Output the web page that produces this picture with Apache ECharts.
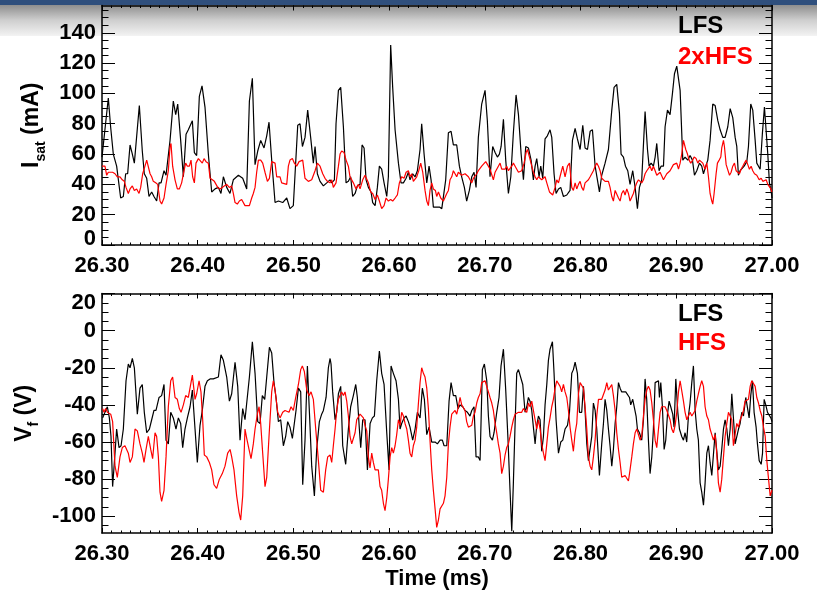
<!DOCTYPE html>
<html>
<head>
<meta charset="utf-8">
<script src="https://cdn.jsdelivr.net/npm/echarts@6/dist/echarts.min.js"></script>
<style>
  html, body { margin: 0; padding: 0; background: #ffffff; }
  #chart { width: 817px; height: 593px; }
</style>
</head>
<body>
<div id="chart"></div>
<script>
// ---- time axis (ms) ----
const timeRange = [26.30, 27.00];
const timeTicks = [26.30, 26.40, 26.50, 26.60, 26.70, 26.80, 26.90, 27.00];
const timeMinorTicks = Array.from({ length: 71 }, (_, i) => +(26.30 + i * 0.01).toFixed(2));

// ---- ion saturation current panel (mA) ----
const isatRange = [0, 158];
const isatTicks = [0, 20, 40, 60, 80, 100, 120, 140];
const isatMinorTicks = Array.from({ length: 32 }, (_, i) => i * 5);

// ---- floating potential panel (V) ----
const vfRange = [-109, 20];
const vfTicks = [-100, -80, -60, -40, -20, 0, 20];
const vfMinorTicks = Array.from({ length: 26 }, (_, i) => -105 + i * 5);

// I_sat, low-field-side probe [time ms, mA]
const isatLfs = [
  [26.3000,58],[26.3066,97],[26.3090,78],[26.3118,60],[26.3153,52],[26.3195,31],[26.3223,32],[26.3247,47],[26.3268,47],[26.3293,66],
  [26.3317,60],[26.3338,54],[26.3390,92],[26.3421,62],[26.3442,47],[26.3467,44],[26.3491,32],[26.3519,35],[26.3543,32],[26.3571,29],
  [26.3596,41],[26.3617,41],[26.3648,49],[26.3669,46],[26.3711,69],[26.3745,95],[26.3770,86],[26.3791,93],[26.3822,69],[26.3850,45],
  [26.3878,73],[26.3902,76],[26.3920,75],[26.3944,82],[26.3965,61],[26.3989,59],[26.4017,98],[26.4045,105],[26.4076,91],[26.4111,60],
  [26.4146,35],[26.4181,37],[26.4216,38],[26.4243,34],[26.4268,45],[26.4303,38],[26.4337,34],[26.4372,43],[26.4425,46],[26.4470,44],
  [26.4512,37],[26.4540,95],[26.4571,110],[26.4599,53],[26.4627,62],[26.4658,69],[26.4693,64],[26.4721,72],[26.4745,81],[26.4773,56],
  [26.4808,28],[26.4843,29],[26.4888,28],[26.4930,31],[26.4964,24],[26.4999,26],[26.5045,79],[26.5069,80],[26.5094,65],[26.5121,71],
  [26.5149,89],[26.5180,71],[26.5208,54],[26.5226,65],[26.5250,47],[26.5278,42],[26.5313,39],[26.5348,41],[26.5382,43],[26.5400,41],
  [26.5428,43],[26.5445,80],[26.5470,102],[26.5494,104],[26.5522,78],[26.5550,41],[26.5574,42],[26.5598,45],[26.5619,32],[26.5644,34],
  [26.5668,39],[26.5696,40],[26.5717,66],[26.5738,64],[26.5759,43],[26.5783,38],[26.5811,35],[26.5828,28],[26.5853,26],[26.5877,38],
  [26.5898,52],[26.5922,50],[26.5947,41],[26.5975,32],[26.5992,45],[26.6016,132],[26.6037,104],[26.6062,76],[26.6097,54],[26.6124,41],
  [26.6149,41],[26.6177,44],[26.6201,48],[26.6218,43],[26.6246,47],[26.6271,45],[26.6295,49],[26.6323,63],[26.6340,80],[26.6365,60],
  [26.6393,41],[26.6417,52],[26.6438,43],[26.6462,25],[26.6497,25],[26.6525,25],[26.6550,24],[26.6567,24],[26.6591,43],[26.6619,74],
  [26.6647,75],[26.6671,66],[26.6706,66],[26.6734,52],[26.6758,45],[26.6786,38],[26.6810,29],[26.6838,36],[26.6863,45],[26.6887,48],
  [26.6908,38],[26.6932,71],[26.6967,93],[26.7002,102],[26.7026,82],[26.7054,45],[26.7082,65],[26.7107,61],[26.7131,58],[26.7152,60],
  [26.7170,65],[26.7194,83],[26.7218,56],[26.7246,34],[26.7271,45],[26.7298,74],[26.7326,99],[26.7351,86],[26.7379,60],[26.7403,43],
  [26.7427,65],[26.7455,64],[26.7483,56],[26.7507,43],[26.7525,52],[26.7542,57],[26.7566,45],[26.7584,52],[26.7605,44],[26.7629,70],
  [26.7653,72],[26.7681,76],[26.7699,71],[26.7723,47],[26.7744,34],[26.7769,37],[26.7793,38],[26.7821,32],[26.7856,33],[26.7890,36],
  [26.7915,69],[26.7943,77],[26.7967,70],[26.7995,63],[26.8023,79],[26.8047,64],[26.8072,63],[26.8100,75],[26.8124,76],[26.8152,52],
  [26.8176,43],[26.8197,35],[26.8221,46],[26.8256,54],[26.8291,63],[26.8326,89],[26.8350,104],[26.8378,106],[26.8406,87],[26.8423,60],
  [26.8448,58],[26.8469,52],[26.8493,49],[26.8517,40],[26.8545,49],[26.8570,38],[26.8594,24],[26.8615,38],[26.8639,43],[26.8674,88],
  [26.8699,63],[26.8716,52],[26.8737,54],[26.8761,52],[26.8779,58],[26.8796,67],[26.8820,49],[26.8841,52],[26.8866,52],[26.8883,78],
  [26.8908,89],[26.8935,86],[26.8960,100],[26.8981,113],[26.9005,118],[26.9023,117],[26.9040,102],[26.9068,56],[26.9092,58],[26.9120,56],
  [26.9144,59],[26.9169,56],[26.9190,46],[26.9214,49],[26.9242,54],[26.9266,52],[26.9284,47],[26.9308,52],[26.9329,56],[26.9353,69],
  [26.9381,93],[26.9406,92],[26.9434,82],[26.9458,76],[26.9486,71],[26.9510,71],[26.9538,78],[26.9563,90],[26.9590,84],[26.9615,71],
  [26.9632,65],[26.9649,46],[26.9667,49],[26.9684,49],[26.9709,52],[26.9737,55],[26.9754,65],[26.9778,93],[26.9799,89],[26.9824,69],
  [26.9841,54],[26.9859,52],[26.9876,50],[26.9900,74],[26.9921,91],[26.9935,91],[26.9956,60],[26.9973,41],[26.9990,36],[27.0000,31]
];

// I_sat, high-field-side probe scaled by 2 [time ms, mA]
const isatHfs2x = [
  [26.3000,52],[26.3031,52],[26.3049,46],[26.3066,48],[26.3084,47],[26.3111,48],[26.3136,47],[26.3160,45],[26.3188,45],[26.3212,43],
  [26.3233,42],[26.3251,38],[26.3275,34],[26.3293,37],[26.3317,39],[26.3338,36],[26.3362,37],[26.3387,34],[26.3404,38],[26.3425,47],
  [26.3449,52],[26.3467,56],[26.3484,57],[26.3502,47],[26.3519,45],[26.3536,42],[26.3561,41],[26.3582,40],[26.3606,29],[26.3623,27],
  [26.3648,31],[26.3669,40],[26.3693,49],[26.3711,65],[26.3721,67],[26.3738,52],[26.3763,43],[26.3787,37],[26.3808,37],[26.3832,41],
  [26.3857,49],[26.3874,54],[26.3892,52],[26.3913,52],[26.3930,56],[26.3947,45],[26.3965,41],[26.3982,54],[26.4007,57],[26.4024,56],
  [26.4048,54],[26.4066,57],[26.4087,55],[26.4111,54],[26.4129,44],[26.4153,43],[26.4174,42],[26.4209,38],[26.4233,37],[26.4257,38],
  [26.4278,39],[26.4303,40],[26.4330,38],[26.4355,39],[26.4372,34],[26.4390,28],[26.4414,27],[26.4435,29],[26.4459,30],[26.4477,29],
  [26.4494,26],[26.4512,26],[26.4540,26],[26.4564,31],[26.4581,34],[26.4599,38],[26.4616,48],[26.4634,56],[26.4658,56],[26.4679,54],
  [26.4703,48],[26.4728,42],[26.4749,44],[26.4773,55],[26.4790,56],[26.4808,54],[26.4825,45],[26.4843,46],[26.4860,45],[26.4877,41],
  [26.4895,40],[26.4930,40],[26.4947,52],[26.4964,56],[26.4989,57],[26.5010,54],[26.5034,52],[26.5059,55],[26.5076,56],[26.5097,56],
  [26.5121,44],[26.5156,42],[26.5191,43],[26.5226,49],[26.5250,54],[26.5278,52],[26.5306,47],[26.5330,44],[26.5355,42],[26.5382,41],
  [26.5400,43],[26.5417,38],[26.5445,41],[26.5470,52],[26.5487,60],[26.5504,62],[26.5529,61],[26.5550,56],[26.5574,52],[26.5591,45],
  [26.5609,44],[26.5626,41],[26.5654,37],[26.5679,40],[26.5696,37],[26.5724,43],[26.5748,46],[26.5766,45],[26.5783,41],[26.5807,35],
  [26.5828,34],[26.5853,30],[26.5877,33],[26.5898,29],[26.5922,24],[26.5947,26],[26.5968,31],[26.5992,29],[26.6016,30],[26.6037,29],
  [26.6062,31],[26.6086,33],[26.6107,41],[26.6131,45],[26.6156,44],[26.6177,48],[26.6201,49],[26.6218,45],[26.6236,47],[26.6253,42],
  [26.6271,41],[26.6288,45],[26.6309,49],[26.6330,54],[26.6351,48],[26.6375,36],[26.6393,29],[26.6410,26],[26.6427,36],[26.6445,41],
  [26.6462,37],[26.6483,36],[26.6497,32],[26.6515,35],[26.6539,31],[26.6567,29],[26.6584,29],[26.6602,34],[26.6619,36],[26.6636,43],
  [26.6654,45],[26.6671,49],[26.6689,50],[26.6706,45],[26.6723,48],[26.6741,47],[26.6758,46],[26.6776,45],[26.6793,47],[26.6810,46],
  [26.6828,45],[26.6845,43],[26.6863,41],[26.6880,44],[26.6915,47],[26.6932,49],[26.6950,48],[26.6967,52],[26.6985,53],[26.7009,55],
  [26.7037,52],[26.7054,50],[26.7089,43],[26.7107,48],[26.7124,49],[26.7141,52],[26.7159,54],[26.7176,50],[26.7194,49],[26.7211,50],
  [26.7228,52],[26.7246,49],[26.7263,50],[26.7281,52],[26.7298,54],[26.7316,52],[26.7333,52],[26.7351,48],[26.7368,47],[26.7385,49],
  [26.7410,54],[26.7431,61],[26.7445,63],[26.7466,58],[26.7490,52],[26.7507,48],[26.7525,45],[26.7542,43],[26.7559,45],[26.7577,44],
  [26.7594,43],[26.7612,43],[26.7629,45],[26.7647,41],[26.7675,35],[26.7709,33],[26.7734,38],[26.7751,43],[26.7769,41],[26.7793,47],
  [26.7814,52],[26.7838,45],[26.7863,52],[26.7884,54],[26.7908,38],[26.7925,36],[26.7943,41],[26.7960,37],[26.7978,40],[26.7995,42],
  [26.8012,38],[26.8030,36],[26.8047,41],[26.8065,42],[26.8082,43],[26.8100,45],[26.8117,46],[26.8134,49],[26.8152,52],[26.8169,54],
  [26.8187,52],[26.8204,49],[26.8221,44],[26.8239,43],[26.8256,42],[26.8274,41],[26.8291,42],[26.8308,38],[26.8326,32],[26.8343,29],
  [26.8361,36],[26.8378,37],[26.8396,31],[26.8413,29],[26.8430,34],[26.8448,36],[26.8465,33],[26.8483,37],[26.8500,34],[26.8517,29],
  [26.8535,30],[26.8552,34],[26.8570,38],[26.8587,41],[26.8605,43],[26.8622,44],[26.8639,41],[26.8657,43],[26.8674,47],[26.8692,49],
  [26.8709,48],[26.8726,52],[26.8744,49],[26.8761,52],[26.8779,49],[26.8796,46],[26.8814,45],[26.8831,48],[26.8848,47],[26.8866,43],
  [26.8883,45],[26.8901,47],[26.8918,48],[26.8935,49],[26.8953,50],[26.8970,53],[26.8988,52],[26.9005,54],[26.9023,50],[26.9040,54],
  [26.9057,60],[26.9075,69],[26.9085,70],[26.9099,63],[26.9117,60],[26.9134,56],[26.9151,54],[26.9172,56],[26.9186,58],[26.9207,57],
  [26.9225,54],[26.9242,56],[26.9260,55],[26.9277,54],[26.9301,50],[26.9319,54],[26.9336,45],[26.9353,34],[26.9371,29],[26.9381,27],
  [26.9395,34],[26.9416,47],[26.9430,54],[26.9448,56],[26.9465,58],[26.9475,64],[26.9493,69],[26.9503,65],[26.9521,53],[26.9538,52],
  [26.9556,46],[26.9573,48],[26.9590,52],[26.9608,54],[26.9625,49],[26.9643,50],[26.9660,47],[26.9677,50],[26.9695,52],[26.9712,54],
  [26.9730,56],[26.9747,53],[26.9764,50],[26.9782,52],[26.9799,49],[26.9817,47],[26.9841,46],[26.9866,43],[26.9887,44],[26.9904,42],
  [26.9922,41],[26.9939,43],[26.9956,40],[26.9974,41],[26.9988,37],[27.0000,35]
];

// V_f, low-field-side probe [time ms, V]
const vfLfs = [
  [26.3007,-47],[26.3031,-44],[26.3056,-41],[26.3077,-47],[26.3094,-57],[26.3111,-84],[26.3129,-71],[26.3153,-53],[26.3178,-63],[26.3199,-62],
  [26.3223,-53],[26.3251,-27],[26.3275,-18],[26.3293,-20],[26.3317,-15],[26.3338,-20],[26.3369,-45],[26.3397,-31],[26.3421,-29],[26.3442,-44],
  [26.3467,-55],[26.3495,-53],[26.3519,-48],[26.3543,-43],[26.3564,-43],[26.3596,-36],[26.3623,-35],[26.3648,-29],[26.3669,-59],[26.3693,-61],
  [26.3718,-44],[26.3745,-47],[26.3773,-53],[26.3798,-47],[26.3822,-50],[26.3843,-63],[26.3867,-53],[26.3892,-47],[26.3920,-41],[26.3944,-32],
  [26.3972,-53],[26.3996,-71],[26.4024,-51],[26.4048,-43],[26.4076,-30],[26.4101,-27],[26.4129,-26],[26.4163,-26],[26.4216,-25],[26.4243,-13],
  [26.4268,-16],[26.4303,-25],[26.4331,-38],[26.4355,-34],[26.4390,-17],[26.4418,-30],[26.4442,-59],[26.4470,-42],[26.4494,-48],[26.4512,-47],
  [26.4540,-25],[26.4571,-6],[26.4599,-23],[26.4627,-49],[26.4651,-50],[26.4675,-35],[26.4700,-37],[26.4721,-25],[26.4749,-9],[26.4773,-12],
  [26.4797,-28],[26.4818,-36],[26.4843,-49],[26.4867,-48],[26.4895,-62],[26.4919,-57],[26.4940,-49],[26.4964,-52],[26.4989,-58],[26.5006,-59],
  [26.5027,-43],[26.5052,-31],[26.5076,-33],[26.5097,-83],[26.5121,-59],[26.5146,-19],[26.5167,-44],[26.5191,-73],[26.5219,-89],[26.5243,-64],
  [26.5271,-49],[26.5295,-45],[26.5313,-43],[26.5341,-36],[26.5365,-20],[26.5383,-15],[26.5393,-18],[26.5410,-33],[26.5435,-48],[26.5452,-44],
  [26.5470,-34],[26.5494,-30],[26.5515,-62],[26.5546,-72],[26.5574,-53],[26.5598,-41],[26.5626,-35],[26.5651,-29],[26.5668,-36],[26.5689,-53],
  [26.5703,-63],[26.5724,-48],[26.5748,-48],[26.5773,-75],[26.5801,-50],[26.5825,-47],[26.5846,-46],[26.5870,-27],[26.5898,-11],[26.5922,-23],
  [26.5947,-29],[26.5975,-55],[26.5999,-75],[26.6020,-19],[26.6044,-23],[26.6072,-27],[26.6097,-37],[26.6114,-53],[26.6131,-50],[26.6156,-47],
  [26.6177,-46],[26.6201,-49],[26.6218,-52],[26.6246,-59],[26.6271,-53],[26.6295,-44],[26.6323,-47],[26.6347,-31],[26.6368,-37],[26.6393,-56],
  [26.6417,-52],[26.6445,-60],[26.6480,-60],[26.6504,-61],[26.6532,-59],[26.6556,-59],[26.6574,-62],[26.6602,-62],[26.6626,-38],[26.6647,-28],
  [26.6671,-35],[26.6696,-35],[26.6720,-42],[26.6741,-40],[26.6769,-41],[26.6793,-43],[26.6818,-44],[26.6845,-46],[26.6863,-43],[26.6887,-41],
  [26.6908,-68],[26.6932,-68],[26.6950,-70],[26.6974,-21],[26.6995,-18],[26.7020,-27],[26.7037,-46],[26.7054,-57],[26.7079,-59],[26.7096,-55],
  [26.7124,-44],[26.7148,-36],[26.7169,-19],[26.7194,-10],[26.7218,-32],[26.7242,-59],[26.7263,-86],[26.7281,-108],[26.7298,-82],[26.7316,-50],
  [26.7333,-23],[26.7351,-21],[26.7368,-22],[26.7396,-29],[26.7420,-44],[26.7438,-41],[26.7455,-36],[26.7472,-38],[26.7490,-43],[26.7507,-52],
  [26.7525,-61],[26.7542,-51],[26.7560,-46],[26.7577,-48],[26.7594,-65],[26.7612,-57],[26.7629,-40],[26.7647,-29],[26.7664,-16],[26.7681,-10],
  [26.7706,-6],[26.7723,-23],[26.7744,-48],[26.7769,-66],[26.7793,-60],[26.7814,-59],[26.7838,-53],[26.7863,-51],[26.7884,-44],[26.7908,-23],
  [26.7925,-21],[26.7943,-17],[26.7967,-23],[26.7988,-44],[26.8012,-44],[26.8030,-30],[26.8047,-43],[26.8065,-61],[26.8082,-70],[26.8100,-70],
  [26.8117,-57],[26.8134,-39],[26.8152,-43],[26.8169,-53],[26.8197,-78],[26.8221,-61],[26.8239,-50],[26.8256,-37],[26.8274,-43],[26.8291,-53],
  [26.8308,-62],[26.8326,-73],[26.8343,-64],[26.8361,-50],[26.8378,-41],[26.8396,-28],[26.8413,-31],[26.8430,-33],[26.8448,-33],[26.8472,-33],
  [26.8490,-34],[26.8511,-36],[26.8524,-40],[26.8545,-37],[26.8559,-37],[26.8580,-46],[26.8594,-53],[26.8615,-55],[26.8639,-59],[26.8657,-48],
  [26.8674,-26],[26.8691,-37],[26.8709,-59],[26.8726,-77],[26.8744,-68],[26.8761,-53],[26.8779,-28],[26.8796,-28],[26.8814,-27],[26.8824,-36],
  [26.8838,-28],[26.8855,-41],[26.8873,-64],[26.8890,-59],[26.8908,-45],[26.8925,-38],[26.8942,-41],[26.8963,-45],[26.8977,-52],[26.8995,-26],
  [26.9016,-44],[26.9033,-53],[26.9057,-57],[26.9075,-59],[26.9092,-55],[26.9109,-60],[26.9127,-46],[26.9144,-39],[26.9162,-28],[26.9179,-19],
  [26.9197,-43],[26.9214,-53],[26.9231,-59],[26.9249,-82],[26.9266,-87],[26.9284,-94],[26.9301,-82],[26.9319,-66],[26.9336,-62],[26.9353,-71],
  [26.9371,-78],[26.9388,-79],[26.9406,-55],[26.9423,-55],[26.9440,-75],[26.9458,-73],[26.9475,-64],[26.9493,-53],[26.9510,-48],[26.9528,-53],
  [26.9545,-62],[26.9563,-53],[26.9580,-34],[26.9597,-33],[26.9615,-61],[26.9632,-62],[26.9650,-53],[26.9667,-50],[26.9684,-44],[26.9702,-46],
  [26.9726,-36],[26.9744,-36],[26.9761,-47],[26.9778,-35],[26.9796,-27],[26.9813,-44],[26.9834,-52],[26.9848,-61],[26.9866,-70],[26.9887,-72],
  [26.9901,-66],[26.9918,-37],[26.9935,-40],[26.9953,-44],[26.9970,-45],[26.9988,-47],[27.0000,-49]
];

// V_f, high-field-side probe [time ms, V]
const vfHfs = [
  [26.3007,-42],[26.3021,-44],[26.3038,-42],[26.3056,-44],[26.3073,-44],[26.3091,-45],[26.3111,-49],[26.3136,-73],[26.3160,-79],[26.3188,-68],
  [26.3212,-63],[26.3240,-62],[26.3258,-62],[26.3275,-66],[26.3293,-71],[26.3317,-68],[26.3345,-53],[26.3369,-54],[26.3397,-61],[26.3421,-66],
  [26.3439,-71],[26.3460,-64],[26.3484,-57],[26.3509,-64],[26.3529,-69],[26.3554,-55],[26.3571,-57],[26.3589,-68],[26.3606,-87],[26.3623,-92],
  [26.3648,-86],[26.3669,-68],[26.3693,-41],[26.3718,-27],[26.3738,-25],[26.3763,-36],[26.3787,-37],[26.3808,-42],[26.3826,-44],[26.3850,-40],
  [26.3874,-35],[26.3902,-36],[26.3920,-35],[26.3944,-24],[26.3972,-37],[26.3989,-34],[26.4014,-27],[26.4034,-33],[26.4052,-48],[26.4069,-67],
  [26.4094,-68],[26.4122,-71],[26.4146,-75],[26.4170,-83],[26.4198,-85],[26.4226,-80],[26.4257,-77],[26.4285,-73],[26.4313,-66],[26.4338,-64],
  [26.4355,-68],[26.4379,-75],[26.4407,-89],[26.4432,-98],[26.4449,-102],[26.4470,-89],[26.4494,-53],[26.4512,-58],[26.4536,-64],[26.4557,-69],
  [26.4581,-61],[26.4599,-53],[26.4623,-45],[26.4641,-41],[26.4658,-50],[26.4679,-66],[26.4703,-84],[26.4721,-79],[26.4745,-57],[26.4773,-33],
  [26.4790,-27],[26.4808,-32],[26.4836,-44],[26.4860,-47],[26.4888,-44],[26.4912,-43],[26.4930,-42],[26.4954,-44],[26.4975,-41],[26.4999,-43],
  [26.5024,-36],[26.5052,-29],[26.5076,-21],[26.5093,-19],[26.5114,-22],[26.5139,-32],[26.5163,-35],[26.5184,-33],[26.5208,-37],[26.5233,-53],
  [26.5261,-70],[26.5285,-86],[26.5313,-87],[26.5337,-75],[26.5358,-68],[26.5383,-67],[26.5400,-71],[26.5417,-62],[26.5435,-53],[26.5452,-43],
  [26.5470,-37],[26.5487,-35],[26.5504,-33],[26.5522,-35],[26.5539,-33],[26.5557,-38],[26.5574,-46],[26.5591,-57],[26.5609,-61],[26.5626,-62],
  [26.5644,-55],[26.5661,-48],[26.5679,-47],[26.5696,-45],[26.5713,-46],[26.5731,-47],[26.5748,-51],[26.5766,-54],[26.5783,-68],[26.5800,-74],
  [26.5818,-66],[26.5835,-71],[26.5853,-75],[26.5870,-76],[26.5887,-75],[26.5905,-84],[26.5922,-86],[26.5940,-93],[26.5957,-97],[26.5975,-90],
  [26.5992,-80],[26.6010,-68],[26.6027,-63],[26.6044,-66],[26.6062,-62],[26.6079,-56],[26.6097,-48],[26.6114,-51],[26.6131,-44],[26.6149,-46],
  [26.6166,-50],[26.6184,-53],[26.6201,-59],[26.6218,-66],[26.6236,-68],[26.6253,-62],[26.6271,-59],[26.6288,-52],[26.6306,-39],[26.6323,-28],
  [26.6340,-20],[26.6358,-23],[26.6375,-25],[26.6393,-31],[26.6410,-42],[26.6427,-59],[26.6445,-75],[26.6462,-86],[26.6480,-96],[26.6497,-106],
  [26.6515,-102],[26.6532,-96],[26.6550,-95],[26.6567,-93],[26.6584,-89],[26.6602,-79],[26.6619,-61],[26.6636,-52],[26.6654,-45],[26.6671,-44],
  [26.6689,-43],[26.6706,-45],[26.6723,-41],[26.6741,-36],[26.6758,-40],[26.6776,-40],[26.6793,-43],[26.6810,-49],[26.6828,-52],[26.6845,-53],
  [26.6863,-51],[26.6880,-46],[26.6897,-44],[26.6915,-39],[26.6932,-36],[26.6950,-34],[26.6967,-28],[26.6985,-27],[26.7002,-27],[26.7020,-28],
  [26.7037,-33],[26.7054,-36],[26.7072,-39],[26.7089,-43],[26.7107,-50],[26.7124,-55],[26.7141,-61],[26.7159,-66],[26.7176,-77],[26.7194,-73],
  [26.7211,-67],[26.7228,-63],[26.7246,-61],[26.7263,-57],[26.7281,-52],[26.7298,-48],[26.7316,-45],[26.7333,-44],[26.7351,-44],[26.7368,-43],
  [26.7385,-44],[26.7403,-42],[26.7420,-41],[26.7438,-44],[26.7455,-39],[26.7472,-41],[26.7490,-38],[26.7507,-43],[26.7525,-48],[26.7542,-53],
  [26.7560,-48],[26.7577,-53],[26.7594,-61],[26.7612,-66],[26.7629,-70],[26.7647,-61],[26.7664,-52],[26.7681,-47],[26.7699,-41],[26.7716,-37],
  [26.7734,-31],[26.7751,-27],[26.7769,-26],[26.7786,-30],[26.7803,-33],[26.7821,-29],[26.7838,-33],[26.7856,-36],[26.7873,-43],[26.7890,-52],
  [26.7908,-59],[26.7925,-65],[26.7943,-55],[26.7960,-50],[26.7978,-34],[26.7995,-28],[26.8012,-27],[26.8030,-31],[26.8047,-41],[26.8065,-53],
  [26.8082,-68],[26.8100,-73],[26.8117,-75],[26.8134,-68],[26.8152,-59],[26.8169,-46],[26.8187,-37],[26.8204,-36],[26.8221,-37],[26.8239,-38],
  [26.8256,-32],[26.8274,-28],[26.8291,-32],[26.8308,-31],[26.8326,-29],[26.8343,-35],[26.8361,-43],[26.8378,-55],[26.8396,-64],[26.8413,-71],
  [26.8430,-79],[26.8448,-78],[26.8465,-78],[26.8483,-79],[26.8500,-81],[26.8517,-75],[26.8535,-68],[26.8552,-61],[26.8570,-55],[26.8587,-53],
  [26.8605,-54],[26.8622,-59],[26.8639,-57],[26.8657,-46],[26.8674,-37],[26.8692,-32],[26.8709,-30],[26.8726,-32],[26.8744,-39],[26.8761,-48],
  [26.8779,-59],[26.8796,-63],[26.8814,-53],[26.8831,-44],[26.8848,-41],[26.8866,-42],[26.8883,-41],[26.8901,-43],[26.8918,-44],[26.8935,-48],
  [26.8953,-53],[26.8970,-55],[26.8988,-51],[26.9005,-44],[26.9023,-33],[26.9040,-27],[26.9057,-26],[26.9075,-38],[26.9092,-44],[26.9110,-48],
  [26.9127,-47],[26.9144,-44],[26.9162,-46],[26.9179,-47],[26.9197,-43],[26.9214,-38],[26.9231,-34],[26.9249,-30],[26.9266,-27],[26.9284,-30],
  [26.9301,-41],[26.9319,-46],[26.9336,-48],[26.9353,-53],[26.9371,-56],[26.9388,-59],[26.9406,-56],[26.9423,-66],[26.9440,-82],[26.9458,-87],
  [26.9475,-80],[26.9493,-68],[26.9510,-57],[26.9528,-50],[26.9545,-44],[26.9563,-44],[26.9580,-48],[26.9597,-62],[26.9615,-61],[26.9632,-50],
  [26.9650,-52],[26.9667,-48],[26.9684,-46],[26.9702,-43],[26.9719,-38],[26.9737,-39],[26.9754,-37],[26.9772,-30],[26.9789,-27],[26.9806,-27],
  [26.9824,-30],[26.9841,-36],[26.9859,-39],[26.9876,-43],[26.9894,-46],[26.9911,-52],[26.9929,-57],[26.9946,-70],[26.9964,-80],[26.9981,-89],
  [26.9991,-90],[27.0000,-86]
];

const FONT = '"Liberation Sans", Arial, Helvetica, sans-serif';
const INK = '#000000';
const RED = '#ff0000';
const frameLine = { show: true, onZero: false, lineStyle: { color: INK, width: 1.5 } };
const hiddenLine = { show: false, onZero: false };
const tickStyle = { color: INK, width: 1 };
const labelFont = { color: INK, fontSize: 22, fontWeight: 'bold', fontFamily: FONT };

// Four overlapping x axes per panel: major/minor ticks on bottom and mirrored on top
function timeAxes(grid, nameOpts) {
  const base = { gridIndex: grid, type: 'value', min: timeRange[0], max: timeRange[1], splitLine: { show: false }, silent: true };
  return [
    Object.assign({}, base, {
      position: 'bottom', axisLine: frameLine,
      axisTick: { show: true, inside: true, length: 5, customValues: timeTicks, lineStyle: tickStyle },
      axisLabel: Object.assign({ show: true, customValues: timeTicks, margin: 10, formatter: v => v.toFixed(2) }, labelFont)
    }, nameOpts || {}),
    Object.assign({}, base, {
      position: 'bottom', axisLine: hiddenLine,
      axisTick: { show: true, inside: true, length: 2.5, customValues: timeMinorTicks, lineStyle: tickStyle },
      axisLabel: { show: false }
    }),
    Object.assign({}, base, {
      position: 'top', axisLine: frameLine,
      axisTick: { show: true, inside: true, length: 5, customValues: timeTicks, lineStyle: tickStyle },
      axisLabel: { show: false }
    }),
    Object.assign({}, base, {
      position: 'top', axisLine: hiddenLine,
      axisTick: { show: true, inside: true, length: 2.5, customValues: timeMinorTicks, lineStyle: tickStyle },
      axisLabel: { show: false }
    })
  ];
}

// Four overlapping y axes per panel: labelled left axis, minor ticks, mirrored right side
function valueAxes(grid, range, major, minor, labelOpts, nameOpts) {
  const base = { gridIndex: grid, type: 'value', min: range[0], max: range[1], splitLine: { show: false }, silent: true };
  return [
    Object.assign({}, base, {
      position: 'left', axisLine: frameLine,
      axisTick: { show: true, inside: true, length: 13, customValues: major, lineStyle: tickStyle },
      axisLabel: Object.assign({ show: true, customValues: major, margin: 6 }, labelFont, labelOpts)
    }, nameOpts),
    Object.assign({}, base, {
      position: 'left', axisLine: hiddenLine,
      axisTick: { show: true, inside: true, length: 6.5, customValues: minor, lineStyle: tickStyle },
      axisLabel: { show: false }
    }),
    Object.assign({}, base, {
      position: 'right', axisLine: frameLine,
      axisTick: { show: true, inside: true, length: 13, customValues: major, lineStyle: tickStyle },
      axisLabel: { show: false }
    }),
    Object.assign({}, base, {
      position: 'right', axisLine: hiddenLine,
      axisTick: { show: true, inside: true, length: 6.5, customValues: minor, lineStyle: tickStyle },
      axisLabel: { show: false }
    })
  ];
}

const boldText = (size, extra) => Object.assign({ fontSize: size, fontWeight: 'bold', fontFamily: FONT, color: INK }, extra || {});

const option = {
  animation: false,
  backgroundColor: '#ffffff',
  graphic: [
    { type: 'rect', z: -10, silent: true, shape: { x: 0, y: 0, width: 817, height: 5 }, style: { fill: '#2f4f7d' } },
    { type: 'rect', z: -10, silent: true, shape: { x: 0, y: 5, width: 817, height: 31 },
      style: { fill: new echarts.graphic.LinearGradient(0, 0, 0, 1, [
        { offset: 0, color: '#8e8e8e' }, { offset: 0.5, color: '#cfcfcf' }, { offset: 1, color: '#f3f3f3' }
      ]) } }
  ],
  grid: [
    { left: 102, right: 45, top: 5.5, height: 239.5, outerBoundsMode: 'none' },
    { left: 102, right: 45, top: 293.5, height: 239.5, outerBoundsMode: 'none' }
  ],
  legend: [
    {
      orient: 'vertical', left: 668, top: 9, itemWidth: 0, itemHeight: 0, itemGap: 7,
      selectedMode: false, icon: 'rect', textStyle: boldText(24),
      data: [{ name: 'LFS', textStyle: { color: INK } }, { name: '2xHFS', textStyle: { color: RED } }]
    },
    {
      orient: 'vertical', left: 668, top: 297, itemWidth: 0, itemHeight: 0, itemGap: 5,
      selectedMode: false, icon: 'rect', textStyle: boldText(24),
      data: [{ name: 'LFS', textStyle: { color: INK } }, { name: 'HFS', textStyle: { color: RED } }]
    }
  ],
  xAxis: [].concat(
    timeAxes(0),
    timeAxes(1, { name: 'Time (ms)', nameLocation: 'middle', nameGap: 35, nameTextStyle: boldText(22) })
  ),
  yAxis: [].concat(
    valueAxes(0, isatRange, isatTicks, isatMinorTicks,
      { formatter: v => (v === 0 ? '{lo|0}' : String(v)), rich: { lo: boldText(22, { padding: [0, 0, 13, 0] }) } },
      { name: '{m|I}{s|sat}{m| (mA)}', nameLocation: 'middle', nameGap: 54, nameRotate: 90,
        nameTextStyle: { rich: { m: boldText(23), s: boldText(14, { padding: [18, 0, 0, 0] }) } } }),
    valueAxes(1, vfRange, vfTicks, vfMinorTicks,
      { formatter: v => (v === 20 ? '{hi|20}' : String(v)), rich: { hi: boldText(22, { padding: [18, 0, 0, 0] }) } },
      { name: '{m|V}{s|f}{m| (V)}', nameLocation: 'middle', nameGap: 56, nameRotate: 90,
        nameTextStyle: { rich: { m: boldText(23), s: boldText(14, { padding: [18, 0, 0, 0] }) } } })
  ),
  series: [
    { name: 'LFS', type: 'line', xAxisIndex: 0, yAxisIndex: 0, data: isatLfs, showSymbol: false, symbol: 'none',
      lineStyle: { color: INK, width: 1.2 }, itemStyle: { color: INK }, z: 3 },
    { name: '2xHFS', type: 'line', xAxisIndex: 0, yAxisIndex: 0, data: isatHfs2x, showSymbol: false, symbol: 'none',
      lineStyle: { color: RED, width: 1.2 }, itemStyle: { color: RED }, z: 4 },
    { name: 'LFS', type: 'line', xAxisIndex: 4, yAxisIndex: 4, data: vfLfs, showSymbol: false, symbol: 'none',
      lineStyle: { color: INK, width: 1.2 }, itemStyle: { color: INK }, z: 3 },
    { name: 'HFS', type: 'line', xAxisIndex: 4, yAxisIndex: 4, data: vfHfs, showSymbol: false, symbol: 'none',
      lineStyle: { color: RED, width: 1.2 }, itemStyle: { color: RED }, z: 4 }
  ]
};

const chart = echarts.init(document.getElementById('chart'), null, { renderer: 'canvas' });
chart.setOption(option);
</script>
</body>
</html>
